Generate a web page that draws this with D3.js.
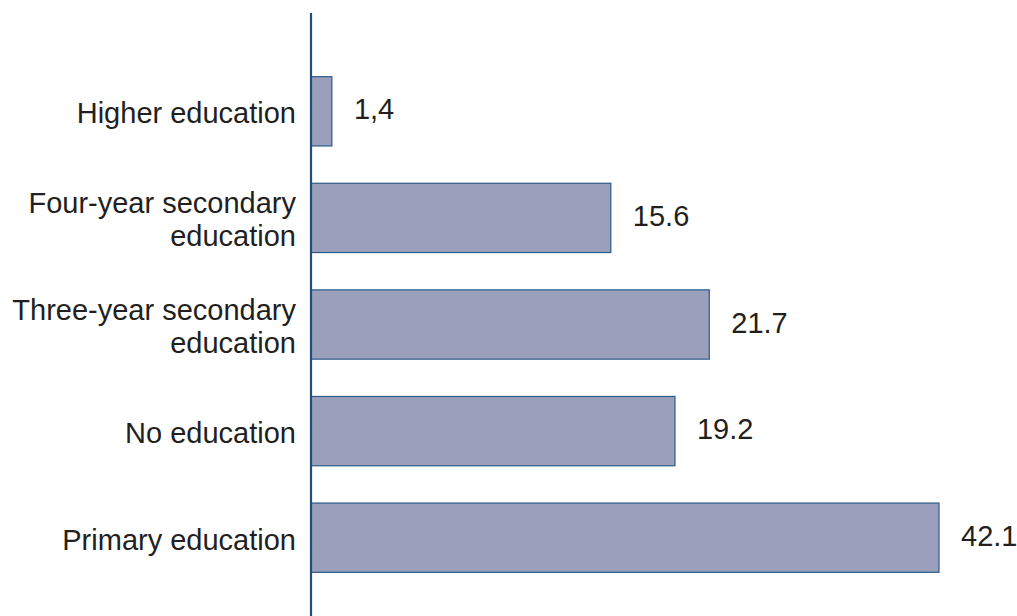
<!DOCTYPE html>
<html>
<head>
<meta charset="utf-8">
<script src="https://cdn.jsdelivr.net/npm/d3@7"></script>
<style>
  html, body { margin: 0; padding: 0; background: #fff; }
  svg { display: block; }
  text { font-family: "Liberation Sans", Arial, sans-serif; fill: #231f20; }
</style>
</head>
<body>
<svg id="chart" width="1017" height="616"></svg>
<script>
// Categories (top to bottom)
const categories = [
  ["Higher education"],
  ["Four-year secondary", "education"],
  ["Three-year secondary", "education"],
  ["No education"],
  ["Primary education"]
];
// Bar lengths as drawn in the picture
const values = [1.4, 20.1, 26.7, 24.4, 42.1];
// Value labels as printed in the picture
const valueLabels = ["1,4", "15.6", "21.7", "19.2", "42.1"];

const W = 1017, H = 616;
const svg = d3.select("#chart");
const axisX = 311;

const x = d3.scaleLinear().domain([0, 42.1]).range([axisX, 939]);
const y = d3.scaleBand()
  .domain(d3.range(categories.length))
  .range([58, 591])
  .paddingInner(0.35)
  .paddingOuter(0.175);

const fontSize = 29;

// bars
svg.append("g").selectAll("rect")
  .data(values)
  .join("rect")
  .attr("x", x(0))
  .attr("y", (d, i) => y(i))
  .attr("width", d => x(d) - x(0))
  .attr("height", y.bandwidth())
  .attr("fill", "#9a9fbb")
  .attr("stroke", "#2c5b8c")
  .attr("stroke-width", 1.2);

// axis line
svg.append("line")
  .attr("x1", axisX).attr("x2", axisX)
  .attr("y1", 13).attr("y2", H)
  .attr("stroke", "#1f4e79")
  .attr("stroke-width", 2.2);

// category labels
const lineH = 33;
const cat = svg.append("g").selectAll("text")
  .data(categories)
  .join("text")
  .attr("text-anchor", "end")
  .attr("font-size", fontSize)
  .attr("dominant-baseline", "central");
cat.each(function(lines, i) {
  const cy = y(i) + y.bandwidth() / 2 + 2;
  const t = d3.select(this);
  lines.forEach((ln, k) => {
    t.append("tspan")
      .attr("x", 296)
      .attr("y", cy + (k - (lines.length - 1) / 2) * lineH)
      .text(ln);
  });
});

// value labels
svg.append("g").selectAll("text")
  .data(values)
  .join("text")
  .attr("x", d => x(d) + 22)
  .attr("y", (d, i) => y(i) + y.bandwidth() / 2 - 2)
  .attr("dominant-baseline", "central")
  .attr("font-size", fontSize)
  .text((d, i) => valueLabels[i]);
</script>
</body>
</html>
